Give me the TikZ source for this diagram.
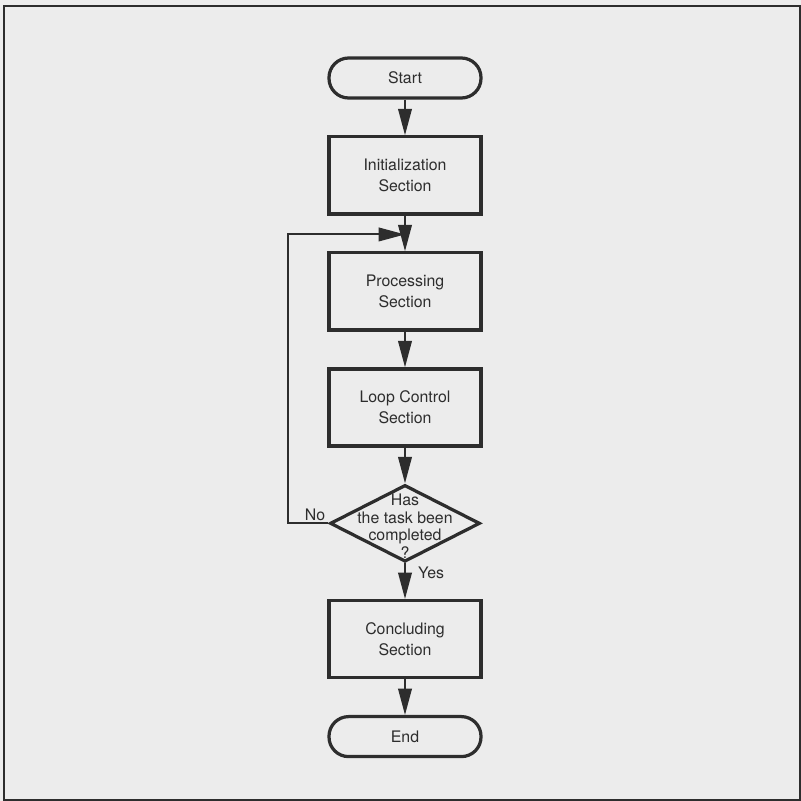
\documentclass[tikz,border=0pt]{standalone}
\usepackage{fontspec}
\setmainfont{TeX Gyre Heros}
\usetikzlibrary{arrows.meta,positioning,shapes.geometric}
\definecolor{PageGray}{RGB}{236,236,236}
\definecolor{InkGray}{RGB}{45,45,45}

\begin{document}
\begin{tikzpicture}[
  font=\fontsize{11.3}{15}\selectfont, text=InkGray,
  node distance=0.89cm,
  termbox/.style={draw=InkGray,line width=2.3pt,rounded corners=4.9mm,minimum width=3.8cm,minimum height=1cm},
  procbox/.style={draw=InkGray,line width=2.3pt,minimum width=3.8cm,minimum height=1.93cm,align=center},
  decbox/.style={draw=InkGray,line width=2.3pt,diamond,minimum width=3.75cm,minimum height=1.92cm,inner sep=0pt},
  flow/.style={draw=InkGray,line width=1.4pt,-{Triangle[length=6.6mm,width=3.4mm]}}
]
  \fill[PageGray] (0,0) rectangle (20.025,-20.025);
  \useasboundingbox (0,0) rectangle (20.025,-20.025);
  \draw[InkGray,line width=1.5pt] (0.1,-0.15) rectangle (19.99,-19.99);

  \node[termbox] (start) at (10.125,-1.95) {Start};
  \node[procbox,below=of start] (init) {Initialization\\Section};
  \node[procbox,below=of init] (proc) {Processing\\Section};
  \node[procbox,below=of proc] (loop) {Loop Control\\Section};
  \node[decbox,below=of loop] (dec) {};
  \node[align=center,font=\fontsize{11.3}{12.5}\selectfont,yshift=-0.07cm] (dectext) at (dec) {Has\\the task been\\completed\\?};
  \node[procbox,below=of dec] (concl) {Concluding\\Section};
  \node[termbox,below=of concl] (stop) {End};
  \coordinate[below=0.47cm of init.south] (merge);

  \draw[flow] (start) -- (init);
  \draw[flow] (init) -- (proc);
  \draw[flow] (proc) -- (loop);
  \draw[flow] (loop) -- (dec);
  \draw[flow] (dec) -- (concl);
  \draw[flow] (concl) -- (stop);
  \draw[flow] (dec.west) -- ++(-1,0) |- (merge);

  \node[anchor=south east,inner sep=2pt] (nolabel) at (dec.west) {No};
  \node[anchor=north west,inner sep=2pt,xshift=0.25cm] (yeslabel) at (dec.south) {Yes};
\end{tikzpicture}
\end{document}
